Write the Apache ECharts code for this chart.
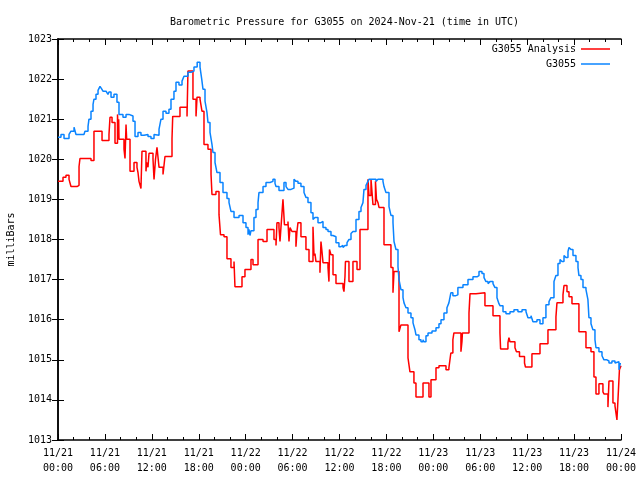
<!DOCTYPE html>
<html>
<head>
<meta charset="utf-8">
<script src="https://cdn.jsdelivr.net/npm/echarts@6/dist/echarts.min.js"></script>
<style>html,body{margin:0;padding:0;background:#fff}#c{width:640px;height:480px}</style>
</head>
<body>
<div id="c"></div>
<script>
const titleText = "Barometric Pressure for G3055 on 2024-Nov-21 (time in UTC)";
const yAxisName = "milliBars";
const seriesNames = ["G3055 Analysis", "G3055"];
const tickDates = ["11/21","11/21","11/21","11/21","11/22","11/22","11/22","11/22","11/23","11/23","11/23","11/23","11/24"];
const tickTimes = ["00:00","06:00","12:00","18:00","00:00","06:00","12:00","18:00","00:00","06:00","12:00","18:00","00:00"];

// [hours since 11/21 00:00 UTC, mBar]
const stationPoints = [[0,1020.55],[0.38,1020.62],[0.77,1020.52],[1.41,1020.62],[1.66,1020.7],[2.05,1020.8],[2.3,1020.62],[3.32,1020.62],[3.45,1020.7],[3.84,1020.82],[3.96,1021.0],[4.22,1021.2],[4.48,1021.37],[4.6,1021.5],[4.86,1021.62],[5.12,1021.72],[5.37,1021.82],[5.6,1021.75],[5.75,1021.7],[6.14,1021.7],[6.39,1021.62],[6.52,1021.68],[6.78,1021.55],[7.16,1021.62],[7.54,1021.42],[7.8,1021.12],[8.31,1021.05],[8.7,1021.12],[9.08,1021.08],[9.59,1020.95],[9.85,1020.57],[10.23,1020.67],[10.61,1020.6],[11.0,1020.62],[11.51,1020.57],[11.89,1020.52],[12.28,1020.62],[12.53,1020.6],[12.92,1020.75],[13.17,1021.0],[13.43,1021.2],[13.81,1021.15],[14.19,1021.25],[14.45,1021.5],[14.83,1021.7],[15.09,1021.92],[15.47,1021.85],[15.86,1021.95],[16.11,1022.07],[16.62,1022.17],[17.01,1022.2],[17.39,1022.3],[17.8,1022.42],[18.16,1022.3],[18.38,1022.0],[18.54,1021.75],[18.8,1021.45],[19.05,1021.17],[19.18,1020.92],[19.44,1020.67],[19.69,1020.37],[19.82,1020.17],[20.08,1019.92],[20.33,1019.67],[20.72,1019.42],[21.1,1019.17],[21.61,1019.02],[21.87,1018.92],[22.12,1018.7],[22.51,1018.55],[23.15,1018.6],[23.66,1018.42],[24.04,1018.3],[24.3,1018.12],[24.42,1018.25],[24.55,1018.1],[24.68,1018.22],[25.06,1018.55],[25.32,1018.75],[25.58,1018.92],[25.7,1019.17],[26.22,1019.32],[26.6,1019.42],[27.11,1019.45],[27.49,1019.5],[27.75,1019.4],[27.88,1019.32],[28.26,1019.22],[28.9,1019.42],[29.16,1019.32],[29.41,1019.25],[29.8,1019.28],[30.18,1019.5],[30.43,1019.45],[30.69,1019.4],[31.07,1019.32],[31.46,1019.17],[31.71,1019.05],[31.97,1018.92],[32.35,1018.67],[32.61,1018.5],[32.86,1018.55],[33.25,1018.42],[33.63,1018.45],[33.89,1018.3],[34.27,1018.25],[34.53,1018.2],[34.91,1018.1],[35.17,1018.07],[35.55,1017.92],[35.93,1017.82],[36.19,1017.85],[36.45,1017.8],[36.7,1017.85],[36.96,1017.92],[37.21,1018.0],[37.47,1018.15],[37.72,1018.2],[38.11,1018.5],[38.49,1018.7],[38.75,1018.8],[39.0,1018.92],[39.13,1019.25],[39.39,1019.35],[39.64,1019.45],[39.77,1019.5],[40.67,1019.45],[40.92,1019.5],[41.56,1019.45],[41.69,1019.32],[41.94,1019.17],[42.33,1018.82],[42.58,1018.6],[42.84,1018.42],[42.97,1017.95],[43.22,1017.75],[43.48,1017.32],[43.61,1017.0],[43.86,1016.75],[44.12,1016.55],[44.25,1016.42],[44.5,1016.3],[44.76,1016.17],[45.14,1016.05],[45.4,1015.92],[45.65,1015.75],[45.78,1015.62],[46.16,1015.5],[46.42,1015.45],[46.68,1015.5],[46.8,1015.45],[47.06,1015.6],[47.32,1015.67],[47.83,1015.72],[48.34,1015.8],[48.72,1015.9],[48.98,1016.0],[49.36,1016.17],[49.74,1016.3],[49.99,1016.42],[50.24,1016.67],[50.5,1016.6],[50.88,1016.62],[51.14,1016.8],[51.79,1016.87],[52.43,1017.0],[53.07,1017.07],[53.58,1017.1],[53.84,1017.2],[54.22,1017.15],[54.48,1017.05],[54.73,1016.95],[54.99,1016.9],[55.24,1016.95],[55.63,1016.9],[55.88,1016.8],[56.14,1016.55],[56.39,1016.4],[56.52,1016.35],[56.91,1016.2],[57.29,1016.15],[57.8,1016.2],[58.31,1016.25],[58.82,1016.2],[59.34,1016.25],[59.85,1016.2],[60.1,1016.05],[60.49,1016.1],[60.74,1015.95],[61.25,1016.0],[61.64,1015.9],[62.02,1016.05],[62.4,1016.37],[62.79,1016.45],[63.04,1016.55],[63.43,1016.95],[63.68,1017.1],[63.94,1017.4],[64.2,1017.5],[64.45,1017.45],[64.71,1017.6],[64.96,1017.55],[65.22,1017.7],[65.35,1017.8],[65.6,1017.75],[65.86,1017.6],[66.24,1017.45],[66.5,1017.3],[66.62,1017.1],[66.88,1017.0],[67.14,1016.8],[67.52,1016.75],[67.77,1016.5],[67.9,1016.05],[68.16,1015.9],[68.41,1015.75],[68.67,1015.5],[68.8,1015.3],[69.18,1015.2],[69.57,1015.1],[69.82,1015.0],[70.2,1014.97],[70.46,1014.92],[70.84,1014.97],[71.23,1014.92],[71.48,1014.95],[71.74,1014.75],[71.87,1014.9],[72.0,1014.9]];

const analysisSteps = [[0,1019.45],[0.64,1019.55],[1.02,1019.6],[1.41,1019.5],[1.66,1019.32],[2.43,1019.35],[2.69,1019.82],[2.81,1020.02],[4.22,1019.97],[4.6,1020.7],[5.63,1020.47],[6.52,1020.62],[6.65,1021.05],[6.91,1020.92],[7.29,1020.4],[7.61,1021.12],[7.67,1020.8],[7.76,1021.0],[7.8,1020.5],[8.44,1020.25],[8.57,1020.02],[8.7,1020.87],[8.78,1020.5],[9.21,1019.7],[9.72,1019.92],[10.1,1019.8],[10.23,1019.67],[10.36,1019.45],[10.49,1019.42],[10.61,1019.27],[10.74,1020.2],[11.25,1019.7],[11.34,1019.92],[11.51,1019.8],[11.64,1020.15],[12.15,1020.0],[12.28,1019.5],[12.47,1020.0],[12.66,1020.3],[12.79,1020.05],[12.92,1019.8],[13.43,1019.62],[13.68,1020.07],[14.58,1020.52],[14.67,1021.07],[15.6,1021.3],[16.5,1021.07],[16.62,1022.2],[17.26,1021.5],[17.65,1021.07],[17.78,1021.55],[18.16,1021.5],[18.41,1021.2],[18.67,1020.37],[19.18,1020.25],[19.57,1019.62],[19.69,1019.12],[20.2,1019.2],[20.59,1018.62],[20.78,1018.12],[21.23,1018.07],[21.61,1017.52],[22.12,1017.3],[22.51,1017.45],[22.63,1016.82],[23.53,1017.07],[23.91,1017.25],[24.68,1017.5],[24.94,1017.37],[25.58,1018.0],[26.22,1017.95],[26.73,1018.25],[27.62,1018.0],[27.88,1017.85],[28.0,1018.42],[28.26,1018.3],[28.39,1017.95],[28.52,1018.32],[28.77,1019.0],[28.96,1018.37],[29.41,1018.45],[29.54,1017.95],[29.67,1018.3],[29.92,1018.2],[30.43,1017.82],[30.56,1018.2],[30.69,1018.42],[31.07,1018.07],[31.71,1017.75],[32.1,1017.45],[32.61,1018.32],[32.74,1017.6],[32.86,1017.65],[32.99,1017.45],[33.5,1017.17],[33.63,1017.95],[33.76,1017.7],[33.89,1017.42],[34.53,1017.3],[34.65,1016.95],[34.72,1017.75],[34.91,1017.62],[35.17,1017.12],[35.55,1016.9],[36.45,1016.8],[36.57,1016.7],[36.7,1017.07],[36.76,1017.45],[37.21,1016.95],[37.72,1017.45],[38.24,1017.25],[38.62,1018.25],[39.64,1019.5],[39.77,1019.1],[40.03,1019.5],[40.28,1018.87],[40.6,1019.45],[40.73,1019.0],[40.92,1018.92],[41.05,1018.8],[41.69,1017.87],[42.58,1017.3],[42.84,1016.67],[42.97,1017.2],[43.61,1015.7],[43.86,1015.87],[44.76,1015.05],[45.01,1014.7],[45.52,1014.42],[45.78,1014.07],[46.68,1014.42],[47.44,1014.07],[47.7,1014.5],[48.34,1014.8],[48.72,1014.85],[49.62,1014.75],[49.99,1014.8],[50.24,1015.17],[50.5,1015.5],[50.63,1015.67],[51.53,1015.2],[51.66,1015.45],[51.72,1015.67],[52.56,1016.17],[52.69,1016.65],[53.45,1016.67],[54.6,1016.35],[55.63,1016.1],[56.52,1015.67],[56.6,1015.27],[57.54,1015.42],[57.67,1015.55],[57.8,1015.45],[58.44,1015.3],[58.63,1015.2],[59.02,1015.08],[59.66,1014.92],[59.78,1014.82],[60.61,1015.15],[61.64,1015.4],[62.66,1015.75],[63.68,1016.07],[63.81,1016.42],[64.58,1016.62],[64.71,1016.85],[65.09,1016.7],[65.35,1016.57],[65.73,1016.4],[66.62,1015.7],[67.52,1015.3],[68.16,1015.2],[68.54,1014.57],[68.8,1014.15],[69.18,1014.4],[69.69,1014.2],[69.82,1014.15],[70.33,1013.82],[70.46,1014.47],[70.97,1013.92],[71.23,1013.85],[71.48,1013.5],[71.61,1014.0],[71.8,1014.75],[72.0,1014.85]];

const FONT = "DejaVu Sans Mono";
const chart = echarts.init(document.getElementById('c'), null, {renderer: 'canvas'});
const tickLabel = v => { const i = Math.round(v / 6); return tickDates[i] + "\n" + tickTimes[i]; };
const axisBase = {
  axisLine: {show: true, lineStyle: {color: '#000', width: 1.5}},
  axisTick: {show: true, inside: true, length: 6, lineStyle: {color: '#000', width: 1}},
  splitLine: {show: false}
};
chart.setOption({
  animation: false,
  backgroundColor: '#fff',
  title: {
    text: titleText, left: 339.5, top: 12, textAlign: 'center',
    textStyle: {fontFamily: FONT, fontSize: 10, fontWeight: 'normal', color: '#000'}
  },
  legend: {
    orient: 'vertical', right: 25, top: 37, align: 'right',
    icon: 'rect', itemWidth: 29, itemHeight: 1.5, itemGap: 1,
    data: seriesNames,
    textStyle: {fontFamily: FONT, fontSize: 10, color: '#000', lineHeight: 14}
  },
  grid: {left: 58, right: 19, top: 39, bottom: 40, containLabel: false, outerBoundsMode: 'none'},
  xAxis: [
    Object.assign({}, axisBase, {
      type: 'value', min: 0, max: 72, interval: 6, position: 'bottom',
      minorTick: {show: true, splitNumber: 3, length: 3, lineStyle: {color: '#000'}},
      axisLabel: {formatter: tickLabel, fontFamily: FONT, fontSize: 10, color: '#000', lineHeight: 15, margin: 6}
    }),
    Object.assign({}, axisBase, {
      type: 'value', min: 0, max: 72, interval: 6, position: 'top',
      minorTick: {show: true, splitNumber: 3, length: 3, lineStyle: {color: '#000'}},
      axisLabel: {show: false}
    })
  ],
  yAxis: [
    Object.assign({}, axisBase, {
      type: 'value', min: 1013, max: 1023, interval: 1, position: 'left',
      name: yAxisName, nameLocation: 'middle', nameGap: 42, nameRotate: 90,
      nameTextStyle: {fontFamily: FONT, fontSize: 10, color: '#000'},
      axisLabel: {formatter: v => String(v), fontFamily: FONT, fontSize: 10, color: '#000', margin: 6}
    }),
    Object.assign({}, axisBase, {
      type: 'value', min: 1013, max: 1023, interval: 1, position: 'right',
      axisLabel: {show: false}
    })
  ],
  series: [
    {
      name: seriesNames[0], type: 'line', step: 'end', data: analysisSteps,
      symbol: 'none', color: '#ff0000', lineStyle: {color: '#ff0000', width: 1.5}, z: 2
    },
    {
      name: seriesNames[1], type: 'line', step: 'end', data: stationPoints,
      symbol: 'none', color: '#0a84ff', lineStyle: {color: '#0a84ff', width: 1.5}, z: 3
    }
  ]
});
</script>
</body>
</html>
